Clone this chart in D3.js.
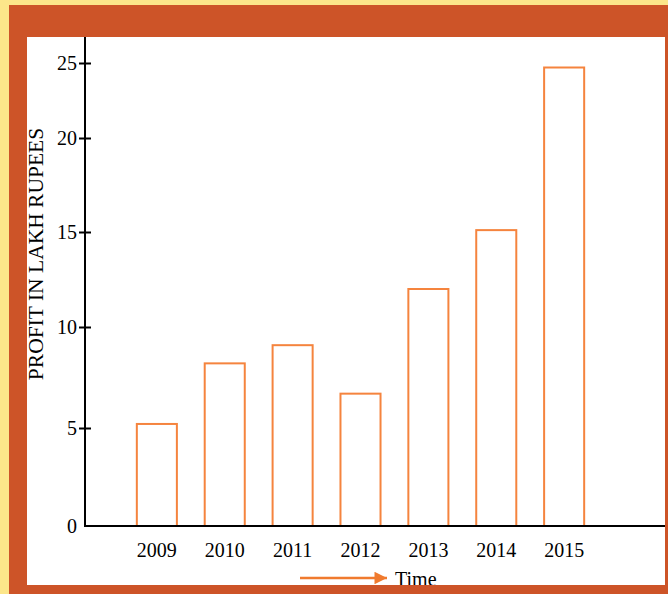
<!DOCTYPE html>
<html>
<head>
<meta charset="utf-8">
<script src="https://cdn.jsdelivr.net/npm/d3@7"></script>
<style>
  html, body { margin: 0; padding: 0; background: #FCE68A; }
  svg { display: block; }
  text { font-family: "Liberation Serif", "Times New Roman", serif; fill: #000; }
</style>
</head>
<body>
<svg id="chart" width="668" height="594"></svg>
<script>
const years = ["2009", "2010", "2011", "2012", "2013", "2014", "2015"];
const profit = [5.2, 8.2, 9.1, 6.7, 12.0, 15.1, 24.7];
const yTicks = [0, 5, 10, 15, 20, 25];
const yTitle = "PROFIT IN LAKH RUPEES";
const xTitle = "Time";

const svg = d3.select("#chart");
const W = 668, H = 594;

// frame geometry
const inner = { x0: 27, y0: 37, x1: 665, y1: 585 };
const frameColor = "#CD5428";
const barColor = "#F5843E";

// background yellow
svg.append("rect").attr("x", 0).attr("y", 0).attr("width", W).attr("height", H).attr("fill", "#FCE68A");
// orange frame base
svg.append("rect").attr("x", 9).attr("y", 5).attr("width", W - 9).attr("height", H - 5).attr("fill", frameColor);
// white panel
svg.append("rect").attr("x", inner.x0).attr("y", inner.y0)
  .attr("width", inner.x1 - inner.x0).attr("height", inner.y1 - inner.y0).attr("fill", "#fff");

const g = svg.append("g");

// scales (the hand-drawn axis has uneven tick spacing, so use a piecewise linear scale)
const y = d3.scaleLinear().domain(yTicks).range([526, 428, 327, 232, 138, 63]);
const x = d3.scaleBand().domain(years).range([109, 612]).padding(0.41);

const axisX = 85, baseY = y(0);

// bars
g.selectAll("rect.bar").data(years).join("rect")
  .attr("class", "bar")
  .attr("x", d => x(d))
  .attr("width", x.bandwidth())
  .attr("y", (d, i) => y(profit[i]))
  .attr("height", (d, i) => baseY - y(profit[i]))
  .attr("fill", "#fff")
  .attr("stroke", barColor)
  .attr("stroke-width", 2);

// y axis
const yAxis = d3.axisLeft(y).tickValues(yTicks).tickSize(6).tickPadding(2);
const ya = g.append("g").attr("transform", `translate(${axisX},0)`).call(yAxis);
ya.select(".domain").remove();
ya.selectAll(".tick line").attr("x1", -6).attr("x2", 6).attr("stroke", "#000").attr("stroke-width", 2)
  .filter(d => d === 0).remove();
ya.selectAll(".tick text").attr("x", -8).attr("font-size", 20)
  .attr("font-family", "Liberation Serif, serif").attr("fill", "#000");

// x axis
const xAxis = d3.axisBottom(x).tickSize(0).tickPadding(17);
const xa = g.append("g").attr("transform", `translate(0,${baseY})`).call(xAxis);
xa.select(".domain").remove();
xa.selectAll(".tick text").attr("font-size", 20)
  .attr("font-family", "Liberation Serif, serif").attr("fill", "#000");

// axis lines
g.append("line").attr("x1", axisX).attr("x2", axisX).attr("y1", inner.y0).attr("y2", baseY + 1)
  .attr("stroke", "#000").attr("stroke-width", 2);
g.append("line").attr("x1", axisX - 1).attr("x2", inner.x1).attr("y1", baseY).attr("y2", baseY)
  .attr("stroke", "#000").attr("stroke-width", 2);

// y title
g.append("text")
  .attr("transform", `translate(43,254) rotate(-90)`)
  .attr("text-anchor", "middle")
  .attr("font-size", 21.5)
  .text(yTitle);

// x title with arrow
const defs = svg.append("defs");
defs.append("marker").attr("id", "arr").attr("viewBox", "0 0 10 10")
  .attr("refX", 10).attr("refY", 5).attr("markerWidth", 6).attr("markerHeight", 5)
  .attr("markerUnits", "strokeWidth").attr("orient", "auto")
  .append("path").attr("d", "M0,0L10,5L0,10Z").attr("fill", "#F07A2E");
g.append("line").attr("x1", 300).attr("x2", 387).attr("y1", 578).attr("y2", 578)
  .attr("stroke", "#F07A2E").attr("stroke-width", 2.5).attr("marker-end", "url(#arr)");
g.append("text").attr("x", 395).attr("y", 586).attr("font-size", 20).text(xTitle);

// bottom frame strip drawn over the title
svg.append("rect").attr("x", 9).attr("y", inner.y1).attr("width", W - 9).attr("height", H - inner.y1).attr("fill", frameColor);
</script>
</body>
</html>
